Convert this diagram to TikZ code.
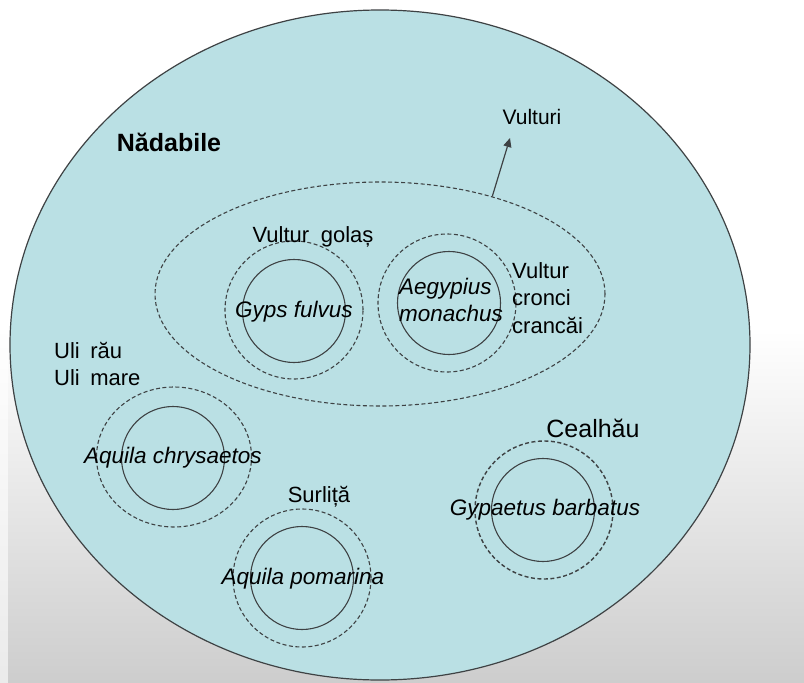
\documentclass[tikz,border=0pt]{standalone}
\usepackage{fontspec}
\setmainfont{Liberation Sans}
\usetikzlibrary{shapes.geometric, positioning, arrows.meta}
\definecolor{lake}{RGB}{186,224,228}
\definecolor{rim}{RGB}{62,66,68}
\definecolor{floor}{RGB}{205,205,205}
\tikzset{
x=1pt, y=-1pt, % image coordinates, y grows downwards
species/.style={circle, draw=rim, line width=1.1pt, minimum size=103pt, inner sep=0pt}, % solid circle of one species
ring/.style={circle, draw=rim, line width=1.1pt, dash pattern=on 4pt off 2.5pt, minimum size=138pt, inner sep=0pt}, % dashed ring round it
latin/.style={font=\fontsize{22.5}{27}\selectfont\itshape, inner sep=0pt, align=left}, % scientific names
folk/.style={font=\fontsize{22}{27.5}\selectfont, inner sep=0pt, align=left}, % local names
}

\begin{document}
\begin{tikzpicture}
        % background
        \useasboundingbox (0,0) rectangle (804,683);
        \fill[white] (0,0) rectangle (804,330);
        \shade[top color=white, bottom color=floor] (0,330) rectangle (804,683);
        \fill[white, opacity=0.6] (0,0) rectangle (8,683);
        % the whole region
        \draw[rim, line width=1.2pt, fill=lake] (380,345) ellipse [x radius=370, y radius=335];
        \node[font=\fontsize{25}{30}\selectfont\bfseries, inner sep=0pt] (nadabile) at (169,142) {Nădabile};
        % vultures
        \node[ellipse, draw=rim, line width=1.1pt, dash pattern=on 4pt off 2.5pt,
              minimum width=450pt, minimum height=224pt, inner sep=0pt] (vgroup) at (380,294) {};
        \node[folk, font=\fontsize{21}{26}\selectfont] (vulturi) at (532,117) {Vulturi};
        \coordinate (vtip) at (510,138);
        \draw[rim, line width=1.2pt, -{Triangle[length=9pt, width=8pt]}] (vgroup.41) -- (vtip);
        % Gyps fulvus
        \node[ring] (gypsR) at (294,310) {};
        \node[species] (gypsC) at (294,311) {};
        \node[latin] (gypsT) at (294,312) {Gyps fulvus};
        \node[folk] (golas) at (313,237) {Vultur\hspace{0.25em} golaș};
        % Aegypius monachus
        \node[ring] (aegR) at (447,303) {};
        \node[species] (aegC) at (449,303) {};
        \node[latin, anchor=west] (aegT) at (399,300) {Aegypius\\monachus};
        \node[folk, anchor=west] (cronci) at (512,298) {Vultur\\cronci\\crancăi};
        % Aquila chrysaetos
        \node[ring, ellipse, minimum width=155pt, minimum height=140pt] (chrR) at (174,457) {};
        \node[species] (chrC) at (173,458) {};
        \node[latin] (chrT) at (173,458) {Aquila chrysaetos};
        \node[folk, anchor=west] (uli) at (54,364) {Uli\hspace{0.2em} rău\\Uli\hspace{0.2em} mare};
        % Aquila pomarina
        \node[ring] (pomR) at (302,578) {};
        \node[species] (pomC) at (302,578) {};
        \node[latin] (pomT) at (303,579) {Aquila pomarina};
        \node[folk] (surlita) at (319,497) {Surliță};
        % Gypaetus barbatus
        \node[ring, line width=1.4pt] (gypR) at (544,510) {};
        \node[species] (gypC) at (543,510) {};
        \node[latin] (gypT) at (545,510) {Gypaetus barbatus};
        \node[folk, font=\fontsize{25}{30}\selectfont] (cealhau) at (593,428) {Cealhău};
    \end{tikzpicture}
\end{document}
